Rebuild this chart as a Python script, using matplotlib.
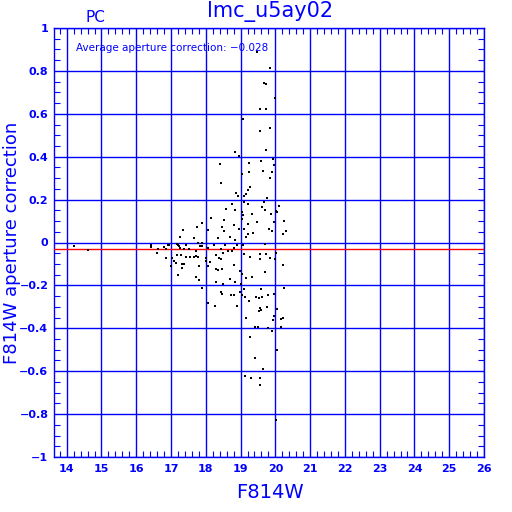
import matplotlib
matplotlib.use("Agg")
import matplotlib.pyplot as plt
from matplotlib.ticker import MultipleLocator, FixedLocator

title = "lmc_u5ay02"
chip = "PC"
avg_corr = -0.028

x_vals = [19.47, 19.86, 19.68, 19.72, 20.0, 19.57, 19.74, 19.08, 19.57, 19.86, 18.84, 18.95, 19.74, 18.42, 19.23, 19.60, 19.93, 19.96,
          14.22, 14.62, 16.41, 16.41, 16.63, 16.61, 16.79, 16.87, 16.91, 16.94, 16.87, 17.0, 17.04, 17.1, 17.13, 17.16, 17.16, 17.19, 17.22, 17.25, 17.27, 17.30, 17.33, 17.36, 17.31, 17.21, 17.35, 17.38, 17.43, 17.43, 17.52, 17.67, 17.76, 17.73, 17.77, 17.67, 17.72, 17.77, 17.82, 17.81, 17.73, 17.81,
          19.04, 19.24, 19.64, 19.9, 19.84, 18.43, 19.26, 19.21, 18.86, 18.94, 19.17, 19.10, 19.77, 18.76, 19.10, 19.22, 19.66, 19.61, 18.58, 18.84, 19.04, 19.06, 19.32, 19.69, 19.88, 20.02, 20.11, 20.05, 18.14, 18.51, 19.03, 19.48, 19.21, 19.95, 20.24, 17.88, 18.06, 18.46, 18.51, 18.80, 18.95, 19.09, 19.36, 19.22, 19.81, 19.89, 20.21, 20.32, 18.35, 18.71, 18.84, 19.15, 19.69, 17.9, 17.88, 18.05, 18.25, 18.45, 18.55, 18.65, 18.76, 18.81, 18.9, 19.06, 19.09, 19.26, 19.55, 19.74, 19.86, 20.01, 19.99, 19.56, 17.54, 18.02, 18.02, 18.12, 18.3, 18.39, 18.44, 18.5, 18.06, 18.3, 18.35, 18.48, 18.81, 18.98, 19.04, 19.17, 19.32, 19.69, 20.22, 18.28, 18.5, 18.69, 18.84, 19.01, 17.90, 18.43, 18.47, 19.10, 19.03, 18.80, 19.25, 19.59, 20.25, 19.43, 19.52, 19.79, 19.96, 18.05, 18.27, 18.91, 19.55, 19.76, 20.04,
          18.72, 18.98, 19.14, 19.63, 19.58, 19.52, 19.96, 19.15, 19.93, 20.16, 20.21, 19.41, 19.50, 19.78, 19.9, 20.16, 19.28, 20.04, 19.41, 19.64, 19.14, 19.31, 19.57, 19.56, 20.01]
y_vals = [0.888, 0.815, 0.744, 0.738, 0.672, 0.624, 0.621, 0.576, 0.521, 0.535, 0.423, 0.405, 0.433, 0.366, 0.371, 0.38, 0.39, 0.361,
          -0.016, -0.033, -0.02, -0.01, -0.03, -0.049, -0.021, -0.03, -0.012, -0.012, -0.072, -0.11, -0.072, -0.086, -0.094, -0.058, -0.005, -0.012, -0.016, -0.026, 0.026, -0.057, -0.1, -0.102, -0.119, -0.15, 0.057, -0.03, -0.012, -0.068, -0.03, 0.022, 0.072, -0.04, -0.001, -0.068, -0.062, -0.066, -0.016, -0.11, -0.161, -0.176,
          0.319, 0.33, 0.333, 0.327, 0.299, 0.277, 0.257, 0.245, 0.231, 0.217, 0.226, 0.217, 0.207, 0.181, 0.189, 0.181, 0.187, 0.167, 0.158, 0.152, 0.142, 0.128, 0.133, 0.152, 0.133, 0.147, 0.172, 0.141, 0.114, 0.105, 0.108, 0.094, 0.086, 0.094, 0.1, 0.092, 0.058, 0.072, 0.055, 0.082, 0.064, 0.063, 0.046, 0.041, 0.064, 0.054, 0.04, 0.052, 0.02, 0.027, 0.01, 0.026, -0.005, -0.016, -0.001, -0.027, -0.013, -0.029, -0.013, -0.041, -0.038, -0.027, -0.01, -0.01, -0.055, -0.066, -0.055, -0.055, -0.074, -0.047, -0.078, -0.078, -0.068, -0.07, -0.085, -0.09, -0.058, -0.07, -0.076, -0.05, -0.108, -0.124, -0.128, -0.124, -0.103, -0.134, -0.148, -0.166, -0.161, -0.139, -0.103, -0.184, -0.195, -0.169, -0.186, -0.193, -0.211, -0.231, -0.242, -0.215, -0.245, -0.246, -0.273, -0.217, -0.212, -0.254, -0.257, -0.246, -0.239, -0.282, -0.295, -0.295, -0.307, -0.299, -0.309,
          -0.245, -0.229, -0.252, -0.252, -0.313, -0.318, -0.341, -0.351, -0.363, -0.355, -0.352, -0.394, -0.394, -0.399, -0.411, -0.394, -0.441, -0.499, -0.538, -0.59, -0.622, -0.63, -0.632, -0.664, -0.828]

x_ticks = list(range(14, 27))
y_ticks = [-1, -0.8, -0.6, -0.4, -0.2, 0, 0.2, 0.4, 0.6, 0.8, 1]
y_tick_labels = ["\u22121", "\u22120.8", "\u22120.6", "\u22120.4", "\u22120.2", "0", "0.2", "0.4", "0.6", "0.8", "1"]

blue = "#0000ff"
fig = plt.figure(figsize=(5.12, 5.12), dpi=100)
ax = fig.add_axes([54/512, 1-457/512, 430/512, 429/512])
ax.set_xlim(13.635, 26)
ax.set_ylim(-1, 1)

ax.xaxis.set_major_locator(FixedLocator(x_ticks))
ax.yaxis.set_major_locator(FixedLocator(y_ticks))
ax.set_xticklabels([str(t) for t in x_ticks])
ax.set_yticklabels(y_tick_labels)
ax.xaxis.set_minor_locator(MultipleLocator(0.2))
ax.yaxis.set_minor_locator(MultipleLocator(0.05))
ax.grid(True, which="major", color=blue, linewidth=1.0)
ax.set_axisbelow(True)
ax.tick_params(which="both", direction="in", top=True, right=True, colors=blue, labelcolor=blue)
ax.tick_params(which="major", length=0, labelsize=8)
ax.tick_params(axis="x", which="major", pad=5)
ax.tick_params(axis="y", which="major", pad=4)
ax.tick_params(which="minor", length=4, width=0.8)
for lab in ax.get_xticklabels() + ax.get_yticklabels():
    lab.set_fontweight("bold")
for s in ax.spines.values():
    s.set_color(blue)
    s.set_linewidth(1.0)

ax.axhline(avg_corr, color="red", linewidth=1.0, zorder=3)
ax.scatter(x_vals, y_vals, s=3, marker="s", color="black", linewidths=0, zorder=4)

ax.set_xlabel("F814W", color=blue, fontsize=14)
ax.xaxis.set_label_coords(0.502, -0.06)
ax.set_ylabel("F814W aperture correction", color=blue, fontsize=13)
ax.yaxis.set_label_coords(-0.076, 0.5)

fig.text(270/512, 1-11/512, title, color=blue, fontsize=15, ha="center", va="center")
fig.text(95/512, 1-17/512, chip, color=blue, fontsize=11, ha="center", va="center")
ax.text(0.051, 0.953, "Average aperture correction: \u22120.028", color=blue, fontsize=7.5,
        transform=ax.transAxes, ha="left", va="center")

fig.savefig("out.png", dpi=100)
